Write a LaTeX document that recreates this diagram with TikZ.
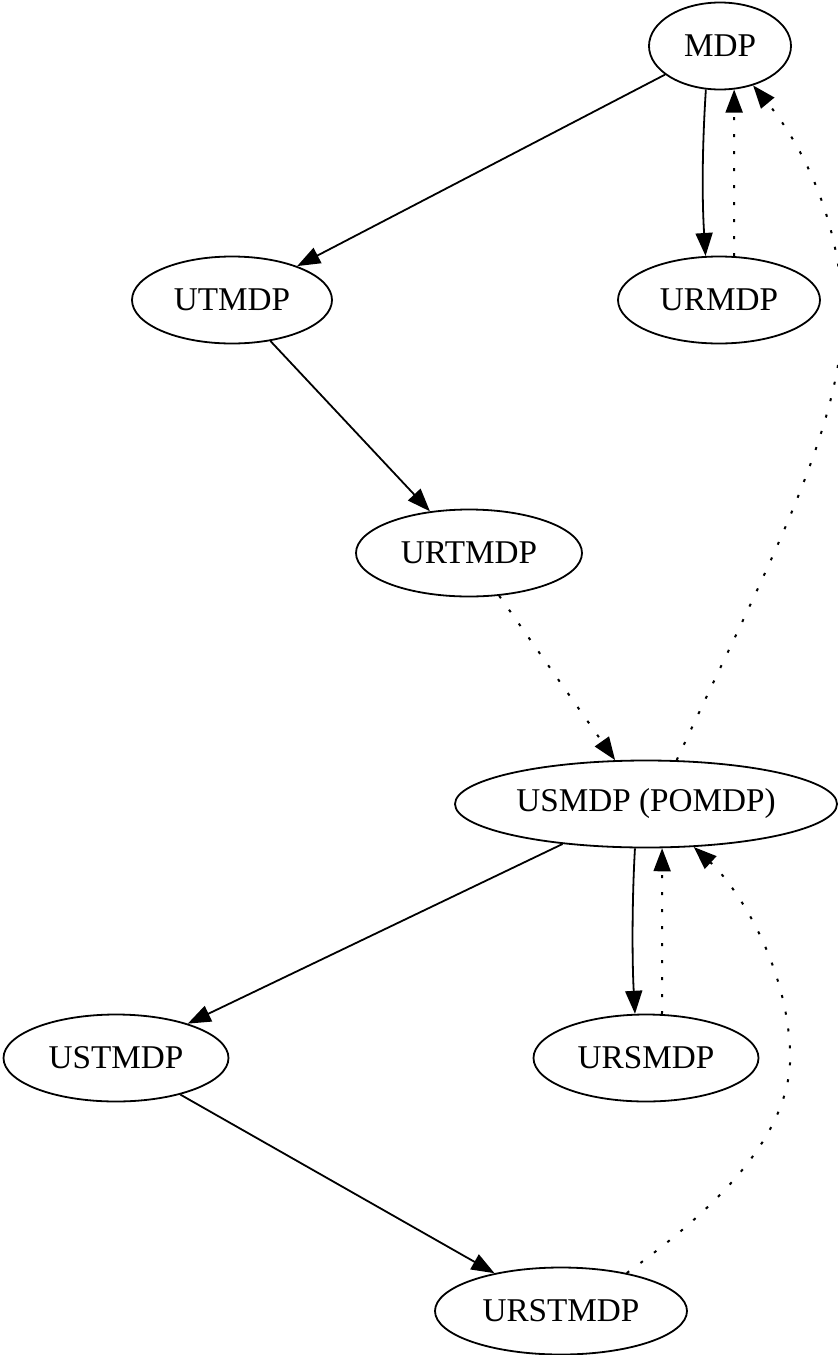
\documentclass[tikz,border=0pt]{standalone}
\usepackage{fontspec}
\setmainfont{Liberation Serif}
\usetikzlibrary{arrows.meta,shapes.geometric,calc}
\begin{document}
\begin{tikzpicture}[x=0.5pt,y=-0.5pt,
  every node/.style={font=\fontsize{16.6pt}{20pt}\selectfont},
  gnode/.style={draw,ellipse,line width=0.9pt,inner sep=0pt,minimum height=43.5pt},
  edge/.style={line width=0.9pt,-{Triangle[length=11.5pt,width=8.5pt]}},
  dotedge/.style={edge,line width=1pt,dash pattern=on 1.5pt off 7pt}]
\useasboundingbox (0,0) rectangle (838,1355);
\node[gnode,minimum width=71pt]    (MDP)    at (720,46)   {MDP};
\node[gnode,minimum width=100pt]   (UTMDP)  at (232,300)  {UTMDP};
\node[gnode,minimum width=101pt]   (URMDP)  at (719,300)  {URMDP};
\node[gnode,minimum width=113pt]   (URTMDP) at (469,553)  {URTMDP};
\node[gnode,minimum width=191pt]   (USMDP)  at (646,804)  {USMDP (POMDP)};
\node[gnode,minimum width=112.5pt] (USTMDP) at (116,1058) {USTMDP};
\node[gnode,minimum width=112.5pt] (URSMDP) at (646,1058) {URSMDP};
\node[gnode,minimum width=126pt]   (URSTMDP) at (561,1311) {URSTMDP};
\coordinate (w1) at (842,300);
\coordinate (w2) at (790,1050);
% solid edges
\draw[edge] (MDP) -- (UTMDP);
\draw[edge] (MDP.-108) .. controls (702,150) and (702,200) .. (URMDP.107);
\draw[edge] (UTMDP) -- (URTMDP);
\draw[edge] (USMDP) -- (USTMDP);
\draw[edge] (USMDP.-104) .. controls (632,900) and (632,960) .. (URSMDP.104);
\draw[edge] (USTMDP) -- (URSTMDP);
% dotted edges
\draw[dotedge] (URMDP.71) -- (MDP.-72);
\draw[dotedge] (URTMDP) -- (USMDP);
\draw[dotedge] (USMDP.55) .. controls (760,580) and (850,420) .. (w1)
  .. controls (836,200) and (790,130) .. (MDP.-50.5);
\draw[dotedge] (URSMDP.70) -- (USMDP.-70);
\draw[dotedge] (URSTMDP.30) .. controls (700,1220) and (795,1140) .. (w2)
  .. controls (786,960) and (735,885) .. (USMDP.-42);
\end{tikzpicture}
\end{document}
